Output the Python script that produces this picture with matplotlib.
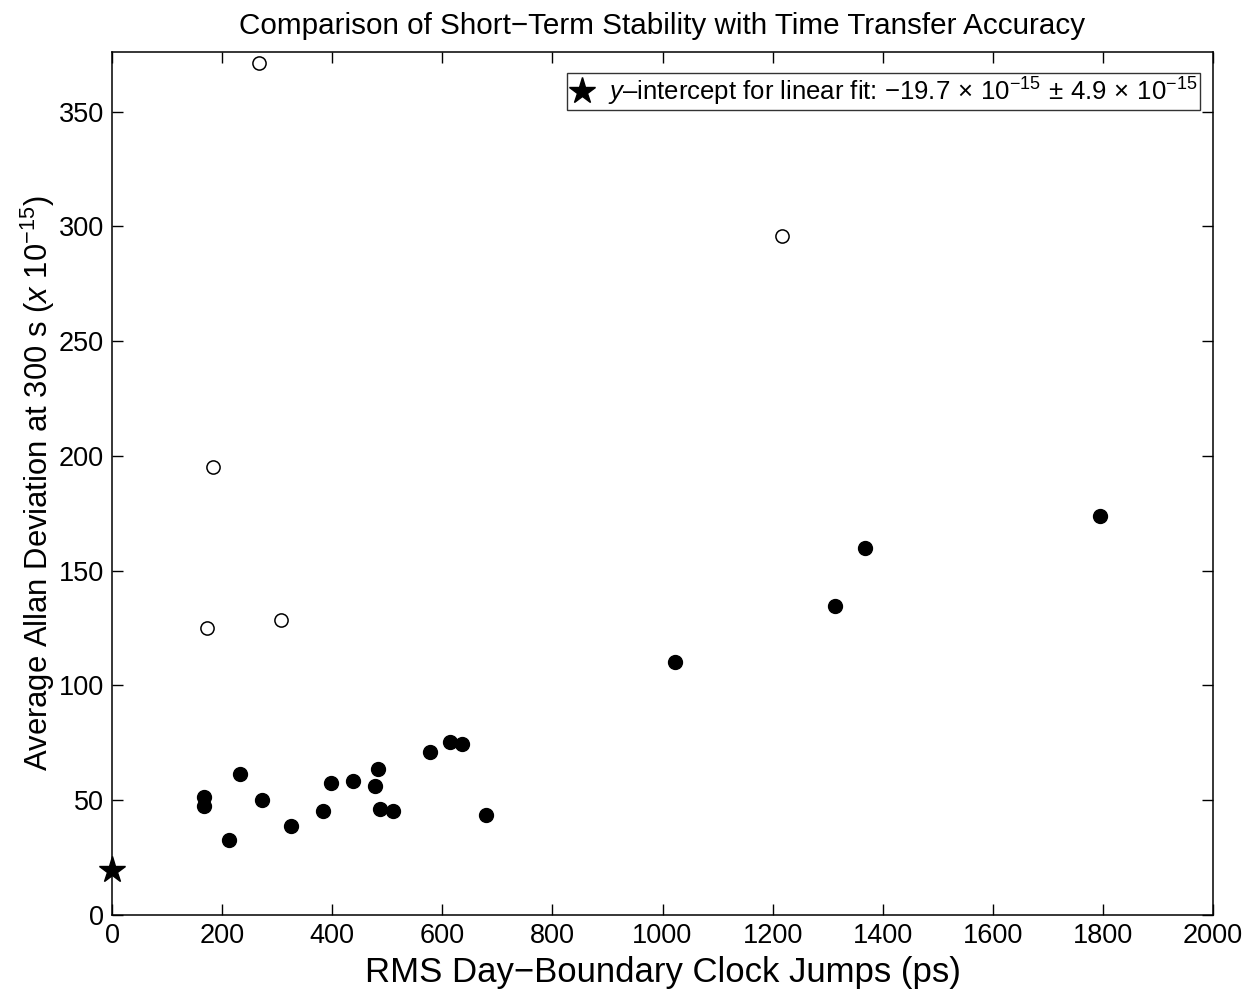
import matplotlib
matplotlib.use("Agg")
import matplotlib.pyplot as plt

plt.rcParams['font.family'] = ['Liberation Sans', 'DejaVu Sans']
plt.rcParams['mathtext.fontset'] = 'custom'
plt.rcParams['mathtext.rm'] = 'Liberation Sans'
plt.rcParams['mathtext.it'] = 'Liberation Sans:italic'
plt.rcParams['mathtext.bf'] = 'Liberation Sans:bold'
plt.rcParams['axes.unicode_minus'] = True

# Filled points (main population)
filled_x = [167, 167, 212, 232, 272, 325, 383, 398, 438, 478, 483, 487, 510,
            578, 614, 636, 679, 1023, 1313, 1368, 1795]
filled_y = [47.5, 51.4, 32.7, 61.4, 50.1, 38.7, 45.3, 57.5, 58.3, 56.2, 63.6,
            46.1, 45.3, 71.0, 75.3, 74.4, 43.5, 110.1, 134.5, 159.8, 173.7]

# Open circles (outliers)
open_x = [267, 183, 173, 307, 1217]
open_y = [371.4, 195.0, 125.0, 128.4, 296.0]

# y-intercept of the linear fit
star_x = [0]
star_y = [19.7]

xticks = [0, 200, 400, 600, 800, 1000, 1200, 1400, 1600, 1800, 2000]
yticks = [0, 50, 100, 150, 200, 250, 300, 350]

fig = plt.figure(figsize=(12.57, 9.97), dpi=100)
ax = fig.add_axes([112/1257, 82/997, (1213-112)/1257, (915-52)/997])

ax.plot(filled_x, filled_y, 'o', color='black', markersize=10, linestyle='none')
ax.plot(open_x, open_y, 'o', markerfacecolor='white', markeredgecolor='black',
        markersize=9.5, markeredgewidth=1.1, linestyle='none')
ax.plot(star_x, star_y, '*', color='black', markersize=20, linestyle='none',
        clip_on=False, zorder=5,
        label=r'$\it{y}$–intercept for linear fit: $-19.7\,\times\,10^{-15}\,\pm\,4.9\,\times\,10^{-15}$')

ax.set_xlim(0, 2000)
ax.set_ylim(0, 376)
ax.set_xticks(xticks)
ax.set_yticks(yticks)
ax.tick_params(direction='in', length=8, width=1, top=True, right=True,
               labelsize=19.5, pad=6)
for s in ax.spines.values():
    s.set_linewidth(1.1)

ax.set_title('Comparison of Short−Term Stability with Time Transfer Accuracy',
             fontsize=21.3, pad=13)
ax.set_xlabel('RMS Day−Boundary Clock Jumps (ps)', fontsize=25, labelpad=5)
ax.set_ylabel(r'Average Allan Deviation at 300 s ($\mathit{x}$ $\mathit{10}^{\mathit{-15}}$)',
              fontsize=22.3, labelpad=1)

leg = ax.legend(loc='upper right', fontsize=18.5, frameon=True, fancybox=False,
                edgecolor='black', handlelength=1.0, handletextpad=0.5,
                borderaxespad=0, borderpad=0.1,
                bbox_to_anchor=(1200/1257, 1 - 73/997),
                bbox_transform=fig.transFigure)
leg.get_frame().set_linewidth(1.0)

fig.savefig('out.png', dpi=100, facecolor='white')
